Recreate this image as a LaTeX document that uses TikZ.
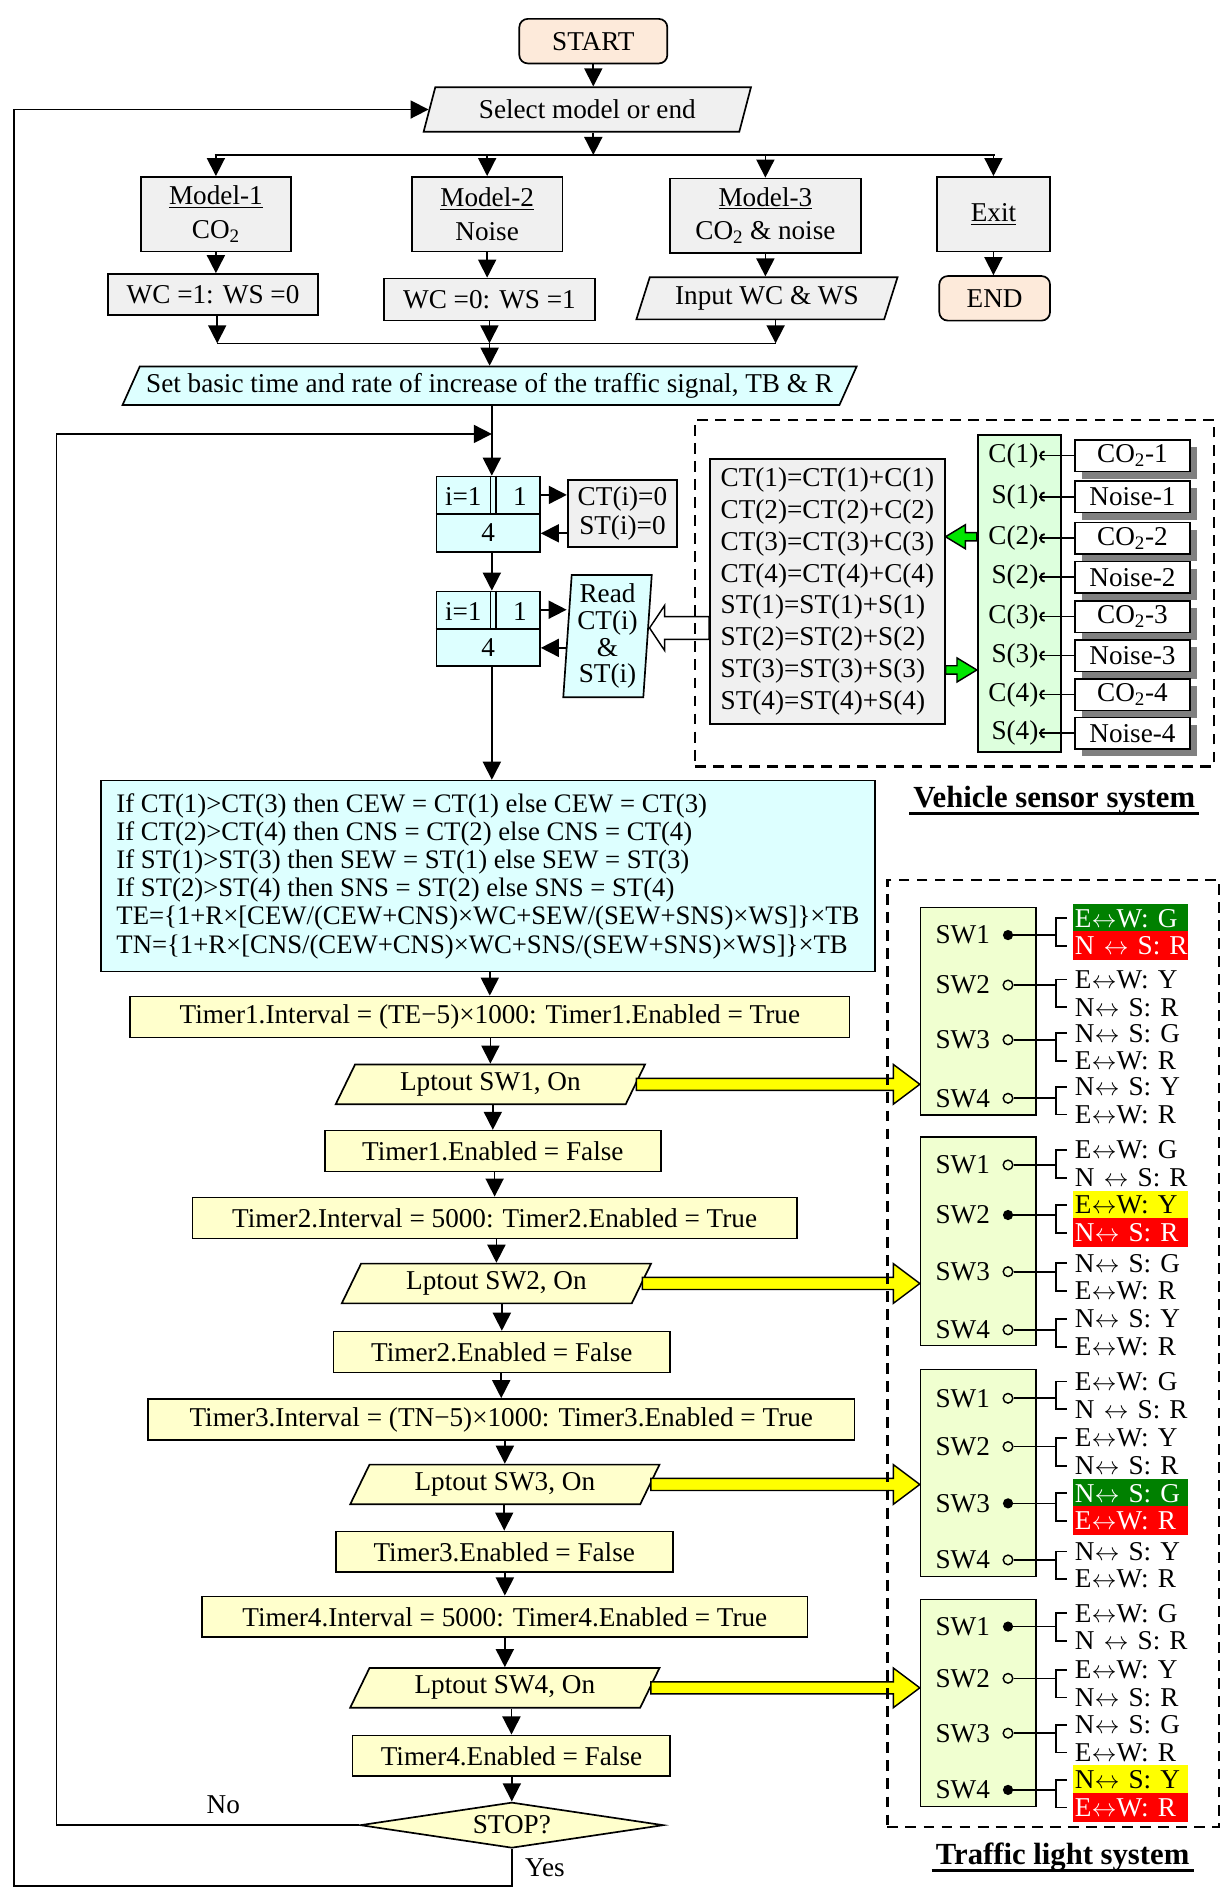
\documentclass[tikz,border=0pt]{standalone}
\usepackage{fontspec}
\setmainfont{Liberation Serif}
\usepackage{tikz}
\usetikzlibrary{shapes.geometric,arrows.meta,positioning,calc,shadows}

\definecolor{peach}{RGB}{253,234,218}
\definecolor{boxgray}{RGB}{240,240,240}
\definecolor{flowcyan}{RGB}{221,255,255}
\definecolor{flowyellow}{RGB}{255,255,204}
\definecolor{sensorgreen}{RGB}{221,255,221}
\definecolor{panelgreen}{RGB}{240,255,208}
\definecolor{lampgreen}{RGB}{0,128,0}
\definecolor{lampred}{RGB}{255,0,0}
\definecolor{lampyellow}{RGB}{255,255,0}
\definecolor{arrowgreen}{RGB}{0,230,0}

\tikzset{
  base/.style={draw, line width=1.4pt, inner sep=3pt, align=center},
  proc/.style={base, rectangle, fill=boxgray},
  term/.style={base, rectangle, rounded corners=7pt, fill=peach},
  timer/.style={proc, fill=flowyellow, minimum height=34pt},
  io/.style={base, trapezium, trapezium left angle=64, trapezium right angle=116, trapezium stretches body, inner sep=2pt},
  lpt/.style={io, trapezium left angle=56, trapezium right angle=124, fill=flowyellow, minimum width=257pt, minimum height=33pt},
  flow/.style={line width=1.4pt, -{Triangle[length=15pt,width=15pt]}},
  conn/.style={line width=1.4pt},
  dashbox/.style={draw, line width=2pt, dash pattern=on 9pt off 6pt, inner sep=0pt},
  systitle/.style={font=\fontsize{25.5}{30}\selectfont\bfseries},
  sensorbox/.style={draw, fill=white, line width=1.4pt, inner sep=0pt, minimum width=96pt, minimum height=26.3pt,
    drop shadow={shadow xshift=6pt, shadow yshift=-6pt, fill=black!50, opacity=1}},
  swname/.style={inner sep=0pt},
  swon/.style={circle, fill=black, inner sep=0pt, minimum size=8.5pt},
  swoff/.style={circle, draw, line width=1.2pt, inner sep=0pt, minimum size=8pt},
  lamp/.style={anchor=west, inner xsep=2pt, inner ysep=0pt, text width=92pt, minimum height=24pt, align=left},
  lampg/.style={fill=lampgreen, text=white},
  lampr/.style={fill=lampred, text=white},
  lampy/.style={fill=lampyellow},
}

% block arrow: fill, tail, tip, shaft half width, head half width, head length
\newcommand{\fatarrow}[6]{%
  \draw[line width=1.2pt, fill=#1] let \p1=#2, \p2=#3, \n1={sign(\x2-\x1)*#6} in
    (\x1,{\y1+#4pt}) -- ({\x2-\n1},{\y1+#4pt}) -- ({\x2-\n1},{\y1+#5pt}) -- (\x2,\y2)
    -- ({\x2-\n1},{\y1-#5pt}) -- ({\x2-\n1},{\y1-#4pt}) -- (\x1,{\y1-#4pt}) -- cycle;}

% lamp texts of each switch
\newcommand{\lr}{\(\leftrightarrow\)}
\newcommand{\lampa}[1]{\mbox{\ifcase#1\or E\lr W: G\or E\lr W: Y\or N\lr\ S: G\or N\lr\ S: Y\fi}}
\newcommand{\lampb}[1]{\mbox{\ifcase#1\or N \lr\ S: R\or N\lr\ S: R\or E\lr W: R\or E\lr W: R\fi}}

% one switch row: name, number, row y, dot style, first lamp y, lamp styles
\newcommand{\swrow}[7]{%
  \node[swname] (#1) at (800,#3) {SW#2};
  \node[#4] (#1dot) at (837.6,#3) {};
  \node[lamp,#6] (#1a) at (891,#5) {\lampa{#2}};
  \node[lamp,#7] (#1b) at (891,{#5+23}) {\lampb{#2}};
  \draw[conn] (#1dot) -- (877.3,#3);
  \draw[conn] (886.5,#5) -- (877.3,#5) -- (877.3,{#5+23}) -- (886.5,{#5+23});
}

\begin{document}
\begin{tikzpicture}[x=1pt, y=-1pt, every node/.style={font=\fontsize{22.6}{26}\selectfont}]
\useasboundingbox (0,0) rectangle (1017,1568);

% model selection
\node[term, minimum width=123pt, minimum height=37pt] (start) at (493,34.2) {START};
\node[io, fill=boxgray, minimum width=272pt, minimum height=37pt] (select) at (488,91) {Select model or end};
\coordinate (busl) at (178.4,128.8);
\coordinate (busr) at (827,128.8);
\node[proc, minimum width=125pt, minimum height=62pt, font=\fontsize{22.6}{27.7}\selectfont] (model1) at (179.4,178) {\underline{Model-1}\\CO\textsubscript{2}};
\node[proc, minimum width=125pt, minimum height=62pt, font=\fontsize{22.6}{27.7}\selectfont] (model2) at (404.8,178) {\underline{Model-2}\\Noise};
\node[proc, minimum width=159pt, minimum height=62pt, font=\fontsize{22.6}{27.7}\selectfont] (model3) at (636,179.3) {\underline{Model-3}\\CO\textsubscript{2} \& noise};
\node[proc, minimum width=94pt, minimum height=62pt] (exitbox) at (825.5,178) {\underline{Exit}};
\node[proc, minimum width=175pt, minimum height=34pt] (wc1) at (177,244.7) {WC =1: WS =0};
\node[proc, minimum width=175pt, minimum height=35pt] (wc2) at (406.7,248.9) {WC =0: WS =1};
\node[io, trapezium left angle=65, trapezium right angle=115, fill=boxgray, minimum width=217pt, minimum height=35pt] (inwc) at (637.3,247.9) {Input WC \& WS};
\node[term, minimum width=92pt, minimum height=37pt] (finish) at (826.5,247.9) {END};
\coordinate (mergel) at (180.5,285.3);
\coordinate (merger) at (644.5,285.3);
\node[io, trapezium left angle=60, trapezium right angle=120, fill=flowcyan, minimum width=610pt, minimum height=32pt] (setbasic) at (406.8,320.6) {Set basic time and rate of increase of the traffic signal, TB \& R};

\draw[flow] (start.south) -- (start.south |- select.north);
\draw[flow] (start.south |- select.south) -- (start.south |- busl);
\draw[conn] (busl) -- (busr);
\foreach \m in {model1,model2,model3,exitbox} \draw[flow] (\m.north |- busl) -- (\m.north);
\draw[flow] (model1.south) -- (model1.south |- wc1.north);
\draw[flow] (model2.south) -- (model2.south |- wc2.north);
\draw[flow] (model3.south) -- (model3.south |- inwc.north);
\draw[flow] (exitbox.south) -- (exitbox.south |- finish.north);
\draw[flow] (mergel |- wc1.south) -- (mergel);
\draw[flow] (wc2.south) -- (wc2.south |- mergel);
\draw[flow] (merger |- inwc.south) -- (merger);
\draw[conn] (mergel) -- (merger);
\draw[flow] (setbasic.north |- mergel) -- (setbasic.north);

% counting loops
\coordinate (loopin) at (408.7,360.6);
\node[base, fill=flowcyan, minimum width=86pt, minimum height=62.4pt] (loopa) at (405.7,427.2) {};
\node[base, fill=flowcyan, minimum width=86pt, minimum height=62pt] (loopb) at (405.7,522.5) {};
\foreach \lp in {loopa,loopb}{
  \draw[conn] (\lp.west) -- (\lp.east);
  \draw[line width=1.2pt] ($(\lp.north)+(2,0)$) -- ($(\lp.center)+(2,0)$)
                          ($(\lp.north)+(6.4,0)$) -- ($(\lp.center)+(6.4,0)$);
  \node (\lp i) at ($(\lp.center)+(-20.7,-14.5)$) {i=1};
  \node (\lp step) at ($(\lp.center)+(26.3,-14.5)$) {1};
  \node (\lp end) at ($(\lp.center)+(0,15.5)$) {4};
}
\node[proc, minimum width=91pt, minimum height=56pt, font=\fontsize{22.6}{24}\selectfont] (ctzero) at (517.2,426.8) {CT(i)=0\\ST(i)=0};
\node[io, trapezium left angle=85.6, trapezium right angle=94.4, fill=flowcyan, minimum width=73.5pt, minimum height=101.6pt, font=\fontsize{22.6}{22.2}\selectfont] (read) at (504.8,528.6) {Read\\CT(i)\\\&\\ST(i)};

\draw[flow] (loopin |- setbasic.south) -- (loopin |- loopa.north);
\draw[flow] (loopa.south -| loopin) -- (loopb.north -| loopin);
\coordinate (la1) at ($(loopa.north east)!0.25!(loopa.south east)$);
\coordinate (la2) at ($(loopa.north east)!0.75!(loopa.south east)$);
\coordinate (lb1) at ($(loopb.north east)!0.25!(loopb.south east)$);
\coordinate (lb2) at ($(loopb.north east)!0.75!(loopb.south east)$);
\draw[flow] (la1) -- (la1 -| ctzero.west);
\draw[flow] (la2 -| ctzero.west) -- (la2);
\draw[flow] (lb1) -- (lb1 -| read.west);
\draw[flow] (lb2 -| read.west) -- (lb2);

% vehicle sensors
\node[proc, align=left, minimum width=195pt, minimum height=220pt, font=\fontsize{22.6}{26.5}\selectfont] (ctsum) at (687.5,491.5)
  {CT(1)=CT(1)+C(1)\\CT(2)=CT(2)+C(2)\\CT(3)=CT(3)+C(3)\\CT(4)=CT(4)+C(4)\\ST(1)=ST(1)+S(1)\\ST(2)=ST(2)+S(2)\\ST(3)=ST(3)+S(3)\\ST(4)=ST(4)+S(4)};
\node[base, fill=sensorgreen, minimum width=69pt, minimum height=263.5pt] (greenbox) at (846.9,493.3) {};
\foreach \i/\y/\lab/\dev in {1/378.6/C(1)/{CO\textsubscript{2}-1}, 2/412.7/S(1)/Noise-1, 3/447.3/C(2)/{CO\textsubscript{2}-2}, 4/479.7/S(2)/Noise-2,
    5/512.4/C(3)/{CO\textsubscript{2}-3}, 6/544.8/S(3)/Noise-3, 7/577.2/C(4)/{CO\textsubscript{2}-4}, 8/609.3/S(4)/Noise-4}{
  \node[anchor=east, inner sep=0pt] (pin\i) at (863,\y) {\lab};
  \node[sensorbox] (dev\i) at (941,\y) {\dev};
  \draw[conn] (pin\i.east) -- (dev\i.west);
  \draw[line width=1.6pt] ($(pin\i.east)+(5,-3.5)$) arc[start angle=90, end angle=270, radius=3.5pt];
}
\coordinate (gleft) at (800,446);
\coordinate (gright) at (800,556.7);
\fatarrow{arrowgreen}{(gleft -| greenbox.west)}{(gleft -| ctsum.east)}{3.5}{10}{16.5}
\fatarrow{arrowgreen}{(gright -| ctsum.east)}{(gright -| greenbox.west)}{3.5}{10}{16.5}
\coordinate (rdin) at ($(read.east)+(1,-6.8)$);
\fatarrow{white}{(rdin -| ctsum.west)}{(rdin)}{9.4}{18.7}{12.5}

% main sequence
\node[proc, fill=flowcyan, align=left, minimum width=643pt, minimum height=158.7pt, font=\fontsize{22.2}{23.4}\selectfont] (ifbox) at (405.5,728)
  {If CT(1)>CT(3) then CEW = CT(1) else CEW = CT(3)\\
   If CT(2)>CT(4) then CNS = CT(2) else CNS = CT(4)\\
   If ST(1)>ST(3) then SEW = ST(1) else SEW = ST(3)\\
   If ST(2)>ST(4) then SNS = ST(2) else SNS = ST(4)\\
   TE=\{1+R×[CEW/(CEW+CNS)×WC+SEW/(SEW+SNS)×WS]\}×TB\\
   TN=\{1+R×[CNS/(CEW+CNS)×WC+SNS/(SEW+SNS)×WS]\}×TB};
\draw[flow] (loopb.south -| loopin) -- (ifbox.north -| loopin);

\node[timer, minimum width=598pt] (setint1) at (407,845) {Timer1.Interval = (TE−5)×1000: Timer1.Enabled = True};
\node[lpt] (lpt1) at (407.5,901) {Lptout SW1, On};
\node[timer, minimum width=279pt] (disable1) at (409.5,956.5) {Timer1.Enabled = False};
\node[timer, minimum width=502pt] (setint2) at (411,1012) {Timer2.Interval = 5000: Timer2.Enabled = True};
\node[lpt] (lpt2) at (412.5,1066.5) {Lptout SW2, On};
\node[timer, minimum width=280pt] (disable2) at (417,1123.5) {Timer2.Enabled = False};
\node[timer, minimum width=587pt] (setint3) at (416.5,1179.5) {Timer3.Interval = (TN−5)×1000: Timer3.Enabled = True};
\node[lpt] (lpt3) at (419.5,1233.5) {Lptout SW3, On};
\node[timer, minimum width=280pt] (disable3) at (419,1289.5) {Timer3.Enabled = False};
\node[timer, minimum width=503pt] (setint4) at (419.5,1343.5) {Timer4.Interval = 5000: Timer4.Enabled = True};
\node[lpt] (lpt4) at (419.5,1402.5) {Lptout SW4, On};
\node[timer, minimum width=264pt] (disable4) at (425,1459) {Timer4.Enabled = False};
\node[base, diamond, aspect=6.6, fill=flowyellow, minimum width=252pt, minimum height=38pt, inner sep=0pt] (stop) at (425.3,1516.6) {STOP?};
\foreach \a/\b in {ifbox/setint1, setint1/lpt1, lpt1/disable1, disable1/setint2, setint2/lpt2, lpt2/disable2, disable2/setint3,
    setint3/lpt3, lpt3/disable3, disable3/setint4, setint4/lpt4, lpt4/disable4, disable4/stop}
  \draw[flow] (\b.center |- \a.south) -- (\b.center |- \b.north);

% loop back
\coordinate (yescorner) at (11.6,1567);
\coordinate (nocorner) at (47,1516.6);
\draw[flow] (stop.south) -- (stop.south |- yescorner) -- (yescorner) -- (yescorner |- select.west) -- (select.west);
\draw[flow] (stop.west) -- (stop.west -| nocorner) -- (nocorner |- loopin) -- (loopin);
\node (yeslbl) at (452.8,1552) {Yes};
\node (nolbl) at (185.6,1500) {No};

% traffic lights
\node[base, fill=panelgreen, minimum width=96pt, minimum height=172.7pt] (panel1) at (813,840.4) {};
\node[base, fill=panelgreen, minimum width=96pt, minimum height=173pt] (panel2) at (813,1031.5) {};
\node[base, fill=panelgreen, minimum width=96pt, minimum height=172pt] (panel3) at (813,1224) {};
\node[base, fill=panelgreen, minimum width=96pt, minimum height=172pt] (panel4) at (813,1415) {};
\foreach \i in {1,...,4}{
  \fatarrow{lampyellow}{(lpt\i.east)}{(lpt\i.east -| panel\i.west)}{5}{16.5}{22}
}

\swrow{pa1}{1}{777}{swon}{763}{lampg}{lampr}
\swrow{pa2}{2}{818.5}{swoff}{814}{}{}
\swrow{pa3}{3}{864}{swoff}{858.6}{}{}
\swrow{pa4}{4}{912.6}{swoff}{903}{}{}

\swrow{pb1}{1}{968}{swoff}{955.6}{}{}
\swrow{pb2}{2}{1009.6}{swon}{1001.3}{lampy}{lampr}
\swrow{pb3}{3}{1056.7}{swoff}{1049.7}{}{}
\swrow{pb4}{4}{1105}{swoff}{1096}{}{}

\swrow{pc1}{1}{1161.9}{swoff}{1148}{}{}
\swrow{pc2}{2}{1202}{swoff}{1195}{}{}
\swrow{pc3}{3}{1249.2}{swon}{1240.8}{lampg}{lampr}
\swrow{pc4}{4}{1296.2}{swoff}{1289.3}{}{}

\swrow{pd1}{1}{1351.6}{swon}{1340.5}{}{}
\swrow{pd2}{2}{1394.6}{swoff}{1387.6}{}{}
\swrow{pd3}{3}{1440.2}{swoff}{1433.3}{}{}
\swrow{pd4}{4}{1487.3}{swon}{1479}{lampy}{lampr}

% system frames
\node[dashbox, minimum width=431.5pt, minimum height=288pt] (sensorsys) at (793.25,493) {};
\node[systitle] (sensortitle) at (876,665) {Vehicle sensor system};
\draw[line width=2.4pt] ([yshift=-5pt]sensortitle.base west) -- ([yshift=-5pt]sensortitle.base east);
\node[dashbox, minimum width=275.6pt, minimum height=787pt] (lightsys) at (875.2,1124.5) {};
\node[systitle] (lighttitle) at (883,1543) {Traffic light system};
\draw[line width=2.4pt] ([yshift=-5pt]lighttitle.base west) -- ([yshift=-5pt]lighttitle.base east);
\end{tikzpicture}
\end{document}
